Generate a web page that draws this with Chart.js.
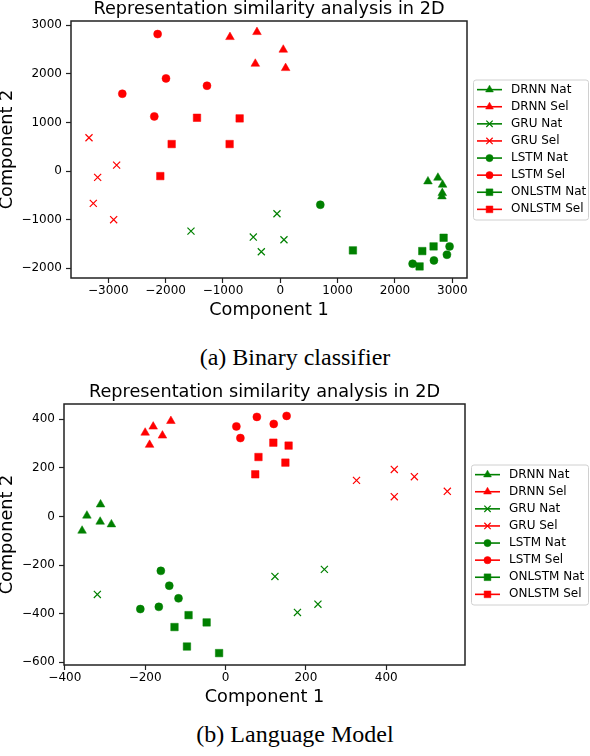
<!DOCTYPE html>
<html>
<head>
<meta charset="utf-8">
<script src="https://cdn.jsdelivr.net/npm/chart.js@4.4.1/dist/chart.umd.min.js"></script>
<style>
  html, body { margin: 0; padding: 0; background: #fff; }
  #page { position: relative; width: 590px; height: 756px; overflow: hidden; }
  canvas { position: absolute; left: 0; }
  .caption { position: absolute; left: 0; width: 590px; text-align: center;
    font-family: "Liberation Serif", "Times New Roman", serif; font-size: 24px; line-height: 24px; color: #000; }
</style>
</head>
<body>
<div id="page">
  <canvas id="chartA" width="590" height="323" style="top:0"></canvas>
  <div class="caption" style="top:345px">(a) Binary classifier</div>
  <canvas id="chartB" width="590" height="340" style="top:370px"></canvas>
  <div class="caption" style="top:722px">(b) Language Model</div>
</div>
<script>
// series order shared by both panels
const seriesLabels = ["DRNN Nat", "DRNN Sel", "GRU Nat", "GRU Sel", "LSTM Nat", "LSTM Sel", "ONLSTM Nat", "ONLSTM Sel"];

// (a) Binary classifier, [component 1, component 2]
const bcDrnnNat = [[2576, -213], [2750, -137], [2831, -281], [2826, -453], [2820, -521]];
const bcDrnnSel = [[-878, 2757], [-407, 2860], [52, 2497], [-436, 2208], [93, 2119]];
const bcGruNat = [[-1558, -1235], [-58, -878], [-471, -1358], [64, -1413], [-331, -1660]];
const bcGruSel = [[-3337, 686], [-2855, 123], [-3186, -130], [-3262, -665], [-2907, -1001]];
const bcLstmNat = [[698, -693], [2953, -1550], [2907, -1722], [2680, -1838], [2308, -1907]];
const bcLstmSel = [[-2140, 2819], [-1994, 1907], [-2756, 1591], [-1279, 1756], [-2198, 1125]];
const bcOnlstmNat = [[1267, -1632], [2849, -1372], [2674, -1550], [2477, -1646], [2430, -1962]];
const bcOnlstmSel = [[-1453, 1097], [-709, 1084], [-1895, 556], [-884, 556], [-2093, -103]];
const bcXTicks = [-3000, -2000, -1000, 0, 1000, 2000, 3000];
const bcYTicks = [-2000, -1000, 0, 1000, 2000, 3000];

// (b) Language model
const lmDrnnNat = [[-311, 49], [-345, 3], [-312, -22], [-284, -33], [-357, -59]];
const lmDrnnSel = [[-200, 344], [-180, 369], [-157, 332], [-189, 294], [-136, 392]];
const lmGruNat = [[-319, -321], [123, -247], [246, -218], [230, -361], [179, -395]];
const lmGruSel = [[326, 148], [420, 193], [470, 163], [420, 81], [552, 103]];
const lmLstmNat = [[-161, -224], [-140, -285], [-117, -337], [-166, -372], [-212, -381]];
const lmLstmSel = [[27, 370], [37, 322], [78, 409], [120, 380], [152, 413]];
const lmOnlstmNat = [[-92, -406], [-47, -436], [-127, -455], [-96, -535], [-16, -562]];
const lmOnlstmSel = [[119, 303], [157, 291], [82, 244], [149, 221], [74, 173]];
const lmXTicks = [-400, -200, 0, 200, 400];
const lmYTicks = [-600, -400, -200, 0, 200, 400];

const titleText = "Representation similarity analysis in 2D";

// styling
const GREEN = "#008000", RED = "#ff0000";
const seriesColors = [GREEN, RED, GREEN, RED, GREEN, RED, GREEN, RED];
const seriesMarkers = ["triangle", "triangle", "crossRot", "crossRot", "circle", "circle", "rect", "rect"];
const markerRadius = { triangle: 5, crossRot: 5, circle: 4, rect: 5.3 };

Chart.defaults.font.family = "DejaVu Sans";
Chart.defaults.color = "#000";

// spines, title over the plot area and a matplotlib-like legend
const panelDecor = {
  id: "panelDecor",
  afterDraw(chart, args, opts) {
    const ctx = chart.ctx, a = chart.chartArea;
    ctx.save();
    ctx.strokeStyle = "#222";
    ctx.lineWidth = 1.5;
    ctx.strokeRect(a.left, a.top, a.right - a.left, a.bottom - a.top);

    ctx.fillStyle = "#000";
    ctx.font = '17.7px "DejaVu Sans"';
    ctx.textAlign = "center";
    ctx.textBaseline = "alphabetic";
    ctx.fillText(opts.title, (a.left + a.right) / 2, a.top - 7);

    const dsets = chart.data.datasets;
    const pitch = 17.1;
    const cy = (a.top + a.bottom) / 2;
    const boxL = a.right + 6, boxR = chart.width - 1;
    const boxT = cy - 70, boxB = cy + 70;
    ctx.beginPath();
    ctx.roundRect(boxL + 0.5, boxT + 0.5, boxR - boxL - 1, boxB - boxT, 2.5);
    ctx.fillStyle = "rgba(255,255,255,0.8)";
    ctx.fill();
    ctx.strokeStyle = "#d0d0d0";
    ctx.lineWidth = 1;
    ctx.stroke();

    ctx.font = '12px "DejaVu Sans"';
    ctx.textAlign = "left";
    ctx.textBaseline = "middle";
    dsets.forEach((ds, i) => {
      const y = cy + (i - (dsets.length - 1) / 2) * pitch;
      const x0 = boxL + 4;
      ctx.strokeStyle = ds.borderColor;
      ctx.lineWidth = 1.6;
      ctx.beginPath();
      ctx.moveTo(x0, y);
      ctx.lineTo(x0 + 25, y);
      ctx.stroke();
      ctx.fillStyle = ds.backgroundColor;
      ctx.lineWidth = ds.borderWidth;
      Chart.helpers.drawPoint(ctx, { pointStyle: ds.pointStyle, radius: ds.pointRadius * 0.9, rotation: 0, borderWidth: ds.borderWidth }, x0 + 12.5, y);
      ctx.fillStyle = "#000";
      ctx.fillText(ds.label, x0 + 34, y);
    });
    ctx.restore();
  }
};

function buildDatasets(seriesData) {
  return seriesData.map((pts, i) => ({
    label: seriesLabels[i],
    data: pts.map(([x, y]) => ({ x, y })),
    pointStyle: seriesMarkers[i],
    pointRadius: markerRadius[seriesMarkers[i]],
    backgroundColor: seriesColors[i],
    borderColor: seriesColors[i],
    borderWidth: seriesMarkers[i] === "crossRot" ? 1.2 : 0.5,
    showLine: false
  }));
}

function makeAxis(min, max, tickValues, title, isX, size) {
  return {
    type: "linear",
    min: min,
    max: max,
    afterBuildTicks: axis => { axis.ticks = tickValues.map(v => ({ value: v })); },
    afterFit: axis => { if (isX) axis.height = size; else axis.width = size; },
    ticks: {
      font: { size: 12 },
      color: "#000",
      padding: isX ? 1 : 4,
      autoSkip: false,
      maxRotation: 0,
      callback: v => String(v).replace("-", "\u2212")
    },
    grid: { display: true, drawOnChartArea: false, drawTicks: true, tickLength: 5, tickColor: "#222", tickWidth: 1.2 },
    border: { display: false },
    title: {
      display: true,
      text: title,
      color: "#000",
      font: { size: 17.7 },
      padding: isX ? { top: 0, bottom: 2 } : { top: -3, bottom: 0 }
    }
  };
}

function makeChart(id, seriesData, xr, yr, xTicks, yTicks, box) {
  const canvas = document.getElementById(id);
  return new Chart(canvas.getContext("2d"), {
    type: "scatter",
    data: { datasets: buildDatasets(seriesData) },
    options: {
      responsive: false,
      animation: false,
      events: [],
      layout: { padding: { top: box.top, right: canvas.width - box.right, left: 0, bottom: 0 } },
      scales: {
        x: makeAxis(xr[0], xr[1], xTicks, "Component 1", true, canvas.height - box.bottom),
        y: makeAxis(yr[0], yr[1], yTicks, "Component 2", false, box.left)
      },
      plugins: {
        legend: { display: false },
        tooltip: { enabled: false },
        panelDecor: { title: titleText }
      }
    },
    plugins: [panelDecor]
  });
}

makeChart("chartA",
  [bcDrnnNat, bcDrnnSel, bcGruNat, bcGruSel, bcLstmNat, bcLstmSel, bcOnlstmNat, bcOnlstmSel],
  [-3651, 3257], [-2200, 3088], bcXTicks, bcYTicks,
  { left: 71, top: 21, right: 467, bottom: 278 });

makeChart("chartB",
  [lmDrnnNat, lmDrnnSel, lmGruNat, lmGruSel, lmLstmNat, lmLstmSel, lmOnlstmNat, lmOnlstmSel],
  [-402, 596], [-611, 462], lmXTicks, lmYTicks,
  { left: 64, top: 34, right: 465, bottom: 295 });
</script>
</body>
</html>
